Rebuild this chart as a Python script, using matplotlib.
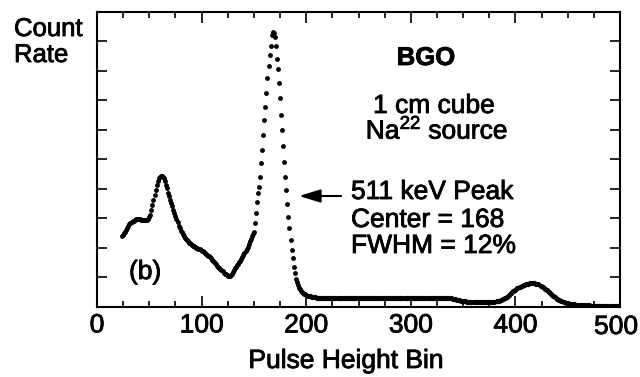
import numpy as np
import matplotlib
matplotlib.use("Agg")
import matplotlib.pyplot as plt
import matplotlib.patheffects as pe

plt.rcParams['font.family'] = ['Liberation Sans', 'DejaVu Sans']
plt.rcParams['mathtext.fontset'] = 'custom'
plt.rcParams['mathtext.rm'] = 'Liberation Sans'
plt.rcParams['mathtext.it'] = 'Liberation Sans'
plt.rcParams['mathtext.bf'] = 'Liberation Sans:bold'

# pulse height bins 24..200, one count per bin
bins_low = np.arange(24, 201)
counts_low = [
    2.39, 2.42, 2.48, 2.54, 2.60, 2.67, 2.74, 2.80, 2.84, 2.87,
    2.90, 2.92, 2.94, 2.96, 2.97, 2.97, 2.97, 2.96, 2.95, 2.94,
    2.93, 2.93, 2.93, 2.93, 2.95, 2.97, 3.03, 3.12, 3.27, 3.45,
    3.62, 3.80, 3.97, 4.12, 4.25, 4.35, 4.40, 4.43, 4.44, 4.41,
    4.35, 4.26, 4.14, 4.01, 3.87, 3.75, 3.63, 3.51, 3.40, 3.29,
    3.18, 3.07, 2.97, 2.86, 2.75, 2.66, 2.58, 2.52, 2.46, 2.40,
    2.34, 2.29, 2.25, 2.21, 2.17, 2.14, 2.11, 2.08, 2.06, 2.04,
    2.02, 2.00, 1.98, 1.96, 1.94, 1.92, 1.90, 1.88, 1.85, 1.82,
    1.79, 1.76, 1.73, 1.70, 1.67, 1.63, 1.59, 1.55, 1.51, 1.47,
    1.43, 1.39, 1.35, 1.31, 1.27, 1.23, 1.19, 1.15, 1.12, 1.09,
    1.06, 1.04, 1.03, 1.04, 1.07, 1.11, 1.17, 1.23, 1.30, 1.35,
    1.40, 1.45, 1.50, 1.56, 1.62, 1.69, 1.76, 1.82, 1.88, 1.95,
    2.03, 2.12, 2.21, 2.30, 2.38, 2.46, 2.54, 2.83, 3.19, 3.56,
    3.84, 4.07, 4.41, 4.86, 5.31, 5.82, 6.33, 6.78, 7.26, 7.75,
    8.17, 8.54, 8.85, 9.22, 9.33, 9.28, 9.16, 8.85, 8.39, 8.05,
    7.58, 7.07, 6.50, 5.99, 5.45, 4.92, 4.41, 3.96, 3.47, 3.05,
    2.66, 2.26, 1.92, 1.64, 1.35, 1.13, 0.95, 0.82, 0.72, 0.64,
    0.58, 0.53, 0.49, 0.46, 0.43, 0.41, 0.39,
]

# bins 202..500, every second bin
bins_high = np.arange(202, 501, 2)
counts_high = [
    0.36, 0.34, 0.32, 0.31, 0.30, 0.30, 0.30, 0.30, 0.30, 0.30,
    0.30, 0.30, 0.30, 0.30, 0.30, 0.30, 0.30, 0.30, 0.30, 0.30,
    0.30, 0.30, 0.30, 0.30, 0.30, 0.30, 0.30, 0.30, 0.30, 0.30,
    0.30, 0.30, 0.30, 0.30, 0.30, 0.30, 0.30, 0.30, 0.30, 0.30,
    0.30, 0.30, 0.30, 0.30, 0.30, 0.30, 0.30, 0.30, 0.30, 0.30,
    0.30, 0.30, 0.30, 0.30, 0.30, 0.30, 0.30, 0.30, 0.30, 0.30,
    0.30, 0.30, 0.30, 0.30, 0.30, 0.30, 0.30, 0.30, 0.29, 0.27,
    0.25, 0.23, 0.21, 0.20, 0.19, 0.17, 0.16, 0.15, 0.15, 0.14,
    0.14, 0.14, 0.14, 0.14, 0.14, 0.14, 0.15, 0.15, 0.16, 0.16,
    0.17, 0.18, 0.21, 0.24, 0.28, 0.33, 0.39, 0.45, 0.51, 0.57,
    0.62, 0.67, 0.71, 0.74, 0.76, 0.78, 0.79, 0.80, 0.80, 0.78,
    0.75, 0.71, 0.66, 0.61, 0.55, 0.48, 0.42, 0.36, 0.31, 0.26,
    0.22, 0.18, 0.15, 0.13, 0.11, 0.09, 0.08, 0.07, 0.06, 0.05,
    0.05, 0.04, 0.04, 0.04, 0.04, 0.03, 0.03, 0.03, 0.03, 0.03,
    0.03, 0.03, 0.03, 0.03, 0.03, 0.03, 0.03, 0.03, 0.03, 0.03,
]

x_ticks = [0, 100, 200, 300, 400, 500]
x_tick_labels = ["0", "100", "200", "300", "400", "500"]
peak_center = 168

W, H = 640, 377
fig = plt.figure(figsize=(W / 100, H / 100), dpi=100)
ax = fig.add_axes([97 / W, 1 - 306.5 / H, (620 - 97) / W, (306.5 - 12) / H])

ax.plot(bins_low, counts_low, 'o', color='black', ms=3.5, mew=0)
ax.plot(bins_high, counts_high, 'o', color='black', ms=3.8, mew=0)

ax.set_xlim(0, 500)
ax.set_ylim(0, 10)
ax.set_xticks(x_ticks)
# the last label sits a little left of its tick, so it is drawn by hand below
ax.set_xticklabels(x_tick_labels[:-1] + [""])
ax.set_xticks(np.arange(0, 501, 25), minor=True)
ax.set_yticks(np.arange(1, 10))
ax.set_yticklabels([])
ax.tick_params(axis='both', which='both', direction='in', top=True, right=True,
               width=1.2, labelsize=19, pad=5)
ax.tick_params(axis='x', which='major', length=8)
ax.tick_params(axis='x', which='minor', length=4)
ax.tick_params(axis='y', which='major', length=7)
for s in ax.spines.values():
    s.set_linewidth(1.5)

heavy = [pe.withStroke(linewidth=0.6, foreground='black')]
for lab in ax.get_xticklabels():
    lab.set_path_effects(heavy)

def ftext(x, y, s, size=19, **kw):
    fig.text(x / W, 1 - y / H, s, va='center', fontsize=size,
             path_effects=heavy, **kw)

ftext(616, 327, x_tick_labels[-1], ha='center')
ftext(346, 361, "Pulse Height Bin", ha='center')
ftext(14, 29, "Count", size=18.5, ha='left')
ftext(14, 55, "Rate", size=18.5, ha='left')
ftext(426, 58, "BGO", size=18.5, ha='center', fontweight='bold')
ftext(434, 106, "1 cm cube", ha='center')
ftext(437, 130, r"Na$^{22}$ source", ha='center')
ftext(351, 192, "511 keV Peak", ha='left')
ftext(351, 220, "Center = %d" % peak_center, ha='left')
ftext(351, 246, "FWHM = 12%", ha='left')
ftext(129, 272, "(b)", ha='left')

fig.add_artist(matplotlib.patches.FancyArrowPatch(
    (341 / W, 1 - 196 / H), (299 / W, 1 - 196 / H), transform=fig.transFigure,
    arrowstyle='-|>,head_length=13,head_width=4', color='black', lw=1.5,
    shrinkA=0, shrinkB=0, mutation_scale=1))

fig.savefig("out.png", dpi=100)
